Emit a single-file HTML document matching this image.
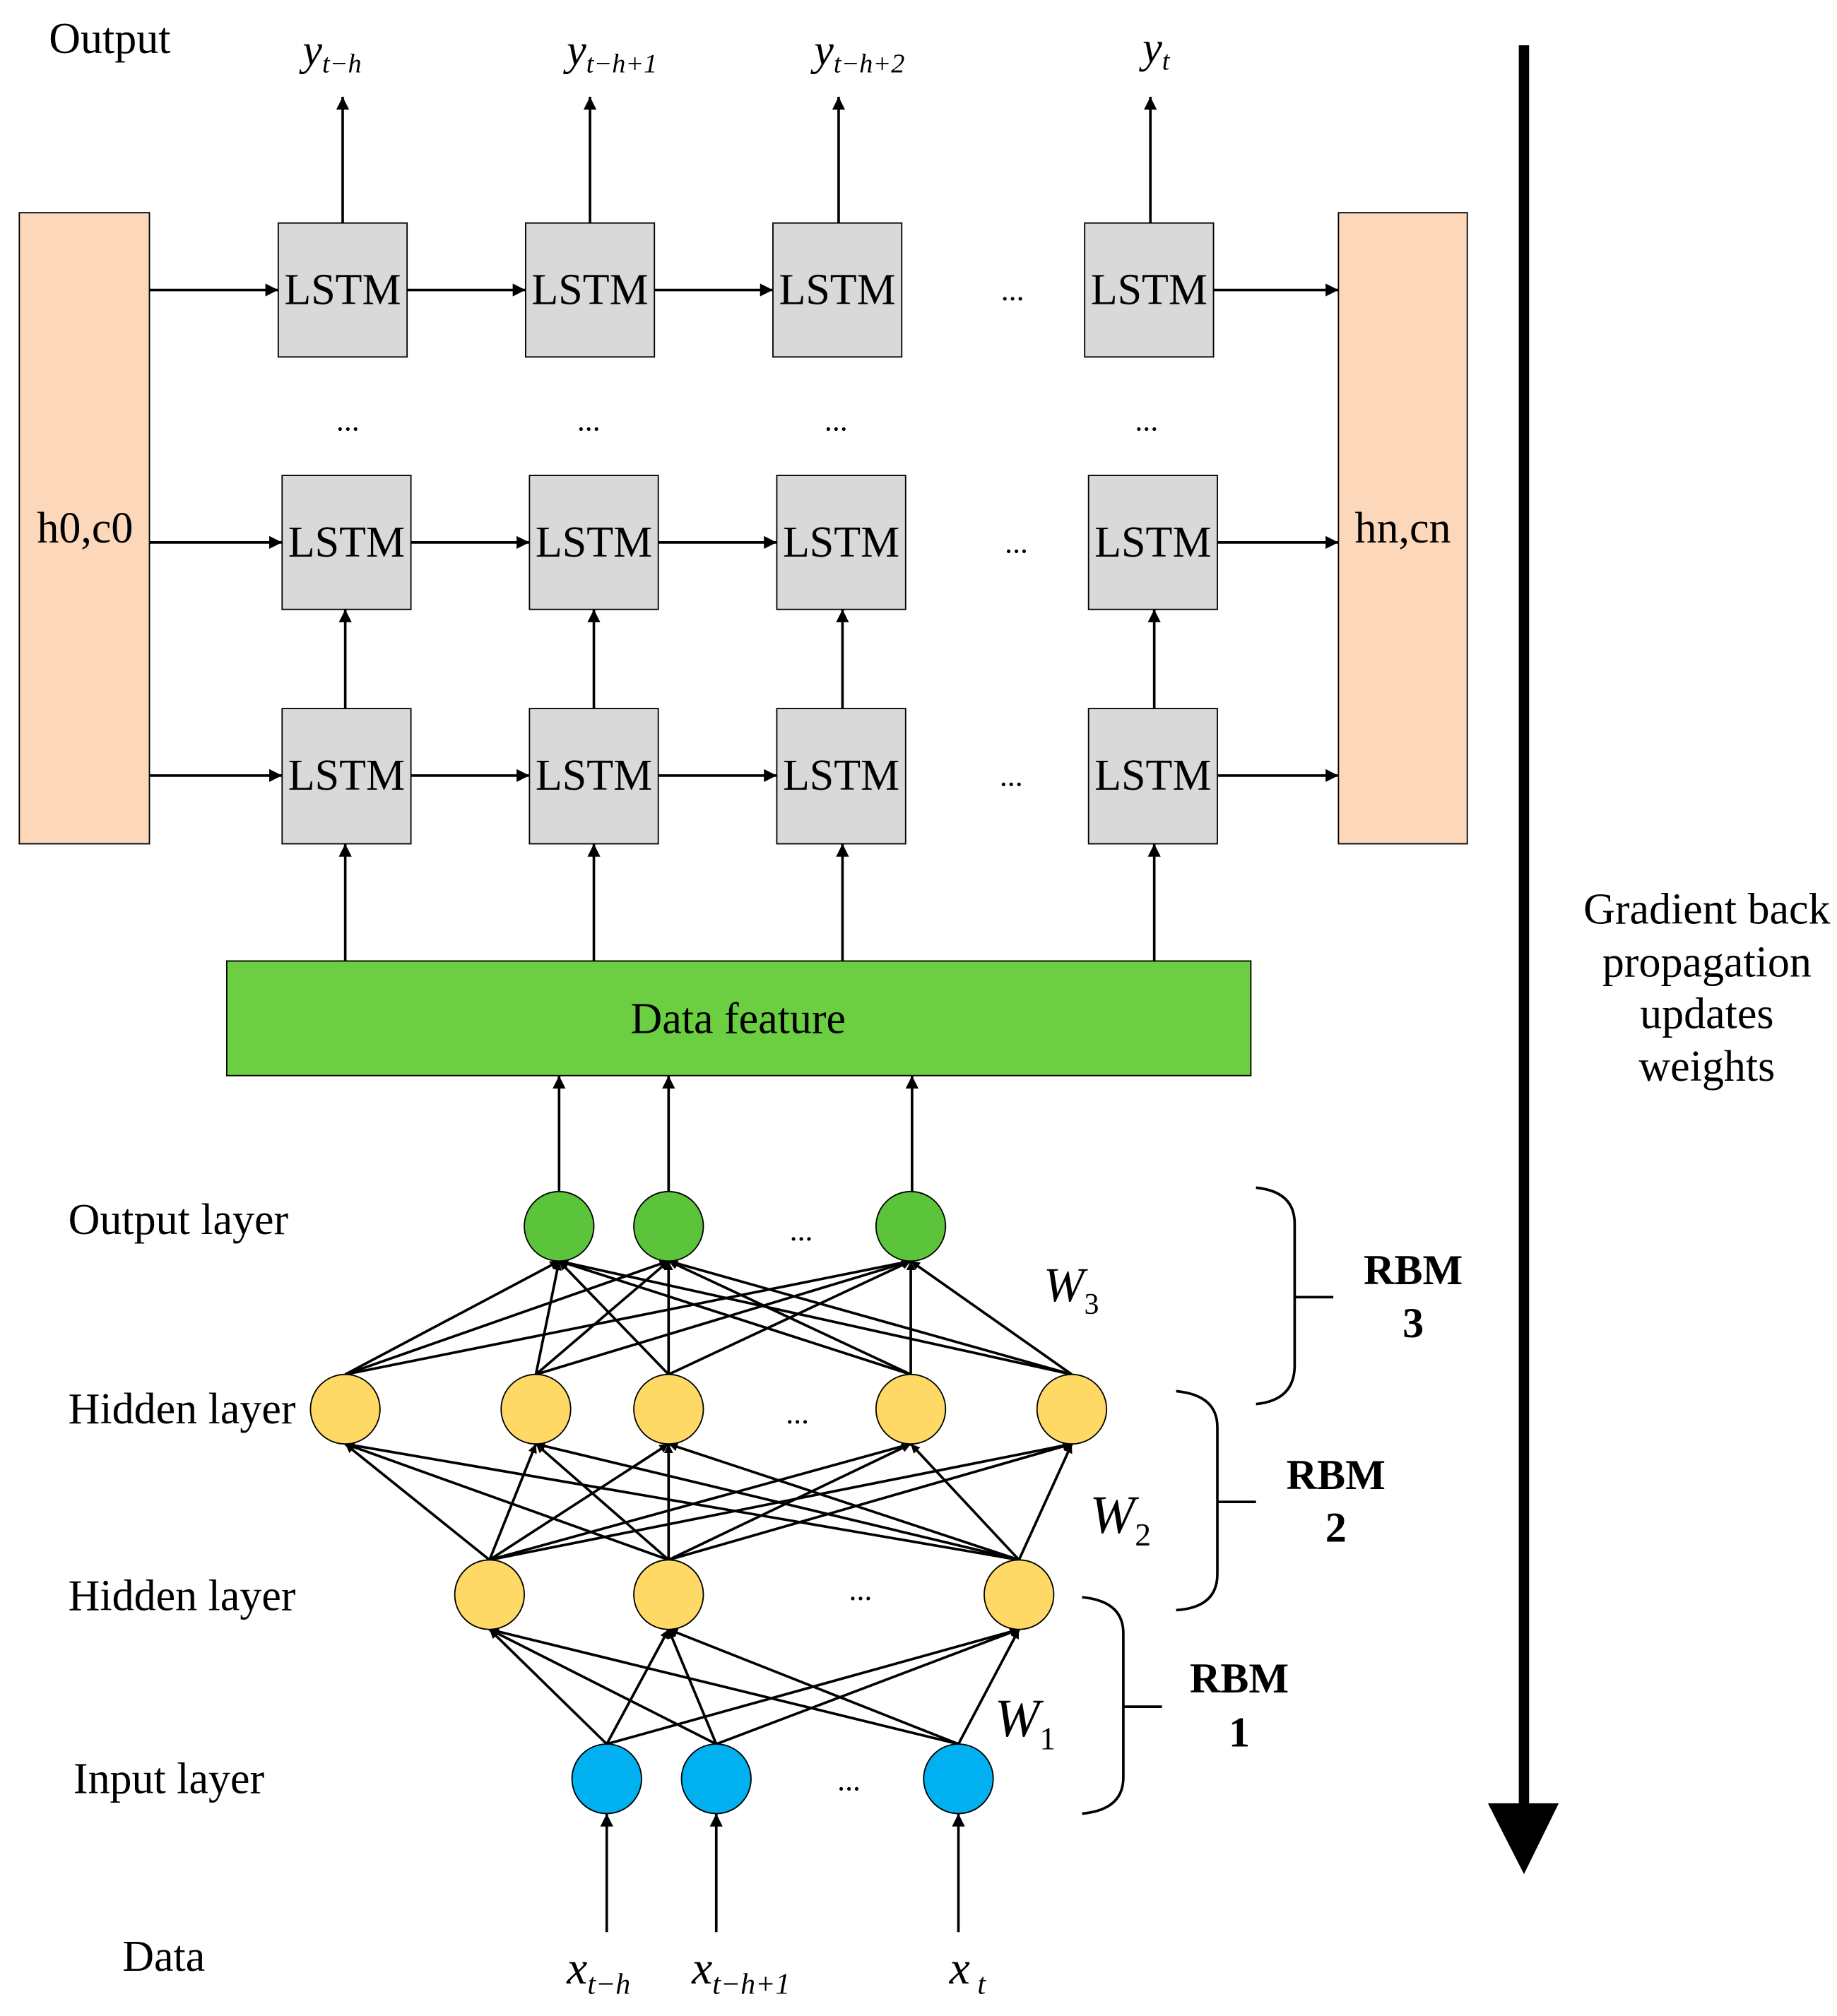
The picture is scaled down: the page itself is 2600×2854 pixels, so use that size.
<!DOCTYPE html>
<html><head><meta charset="utf-8"><style>html,body{margin:0;padding:0;background:#fff}svg{display:block}</style></head>
<body>
<svg width="2600" height="2854" viewBox="0 0 1426 1565" xmlns="http://www.w3.org/2000/svg" font-family="Liberation Serif, serif">
<defs>
<marker id="a" viewBox="0 0 10 10" refX="10" refY="5" markerWidth="7" markerHeight="7" markerUnits="userSpaceOnUse" orient="auto"><path d="M0,0 L10,5 L0,10 z" fill="#000"/></marker>
<marker id="b" viewBox="0 0 10 10" refX="10" refY="5" markerWidth="12" markerHeight="10" markerUnits="userSpaceOnUse" orient="auto"><path d="M0,0 L10,5 L0,10 z" fill="#000"/></marker>
</defs>
<g stroke="#000" stroke-width="2" fill="none" marker-end="url(#b)">
<line x1="266" y1="173" x2="266" y2="75"/><line x1="458" y1="173" x2="458" y2="75"/><line x1="651" y1="173" x2="651" y2="75"/><line x1="893" y1="173" x2="893" y2="75"/>
<line x1="116" y1="225" x2="216" y2="225"/><line x1="316" y1="225" x2="408" y2="225"/><line x1="508" y1="225" x2="600" y2="225"/><line x1="942" y1="225" x2="1039" y2="225"/>
<line x1="116" y1="421" x2="219" y2="421"/><line x1="319" y1="421" x2="411" y2="421"/><line x1="511" y1="421" x2="603" y2="421"/><line x1="945" y1="421" x2="1039" y2="421"/>
<line x1="116" y1="602" x2="219" y2="602"/><line x1="319" y1="602" x2="411" y2="602"/><line x1="511" y1="602" x2="603" y2="602"/><line x1="945" y1="602" x2="1039" y2="602"/>
<line x1="268" y1="550" x2="268" y2="473"/><line x1="461" y1="550" x2="461" y2="473"/><line x1="654" y1="550" x2="654" y2="473"/><line x1="896" y1="550" x2="896" y2="473"/>
<line x1="268" y1="746" x2="268" y2="655"/><line x1="461" y1="746" x2="461" y2="655"/><line x1="654" y1="746" x2="654" y2="655"/><line x1="896" y1="746" x2="896" y2="655"/>
<line x1="434" y1="925" x2="434" y2="835"/><line x1="519" y1="925" x2="519" y2="835"/><line x1="708" y1="925" x2="708" y2="835"/>
<line x1="471" y1="1500" x2="471" y2="1408"/><line x1="556" y1="1500" x2="556" y2="1408"/><line x1="744" y1="1500" x2="744" y2="1408"/>
</g>
<g fill="#FDD7B9" stroke="#000" stroke-width="1">
<rect x="15" y="165" width="101" height="490"/><rect x="1039" y="165" width="100" height="490"/>
</g>
<g fill="#D9D9D9" stroke="#000" stroke-width="1">
<rect x="216" y="173" width="100" height="104"/><rect x="408" y="173" width="100" height="104"/><rect x="600" y="173" width="100" height="104"/><rect x="842" y="173" width="100" height="104"/>
<rect x="219" y="369" width="100" height="104"/><rect x="411" y="369" width="100" height="104"/><rect x="603" y="369" width="100" height="104"/><rect x="845" y="369" width="100" height="104"/>
<rect x="219" y="550" width="100" height="105"/><rect x="411" y="550" width="100" height="105"/><rect x="603" y="550" width="100" height="105"/><rect x="845" y="550" width="100" height="105"/>
</g>
<rect x="176" y="746" width="795" height="89" fill="#6CCF42" stroke="#000" stroke-width="1"/>
<g font-size="34" text-anchor="middle" fill="#000">
<text x="266" y="236">LSTM</text><text x="458" y="236">LSTM</text><text x="650" y="236">LSTM</text><text x="892" y="236">LSTM</text>
<text x="269" y="432">LSTM</text><text x="461" y="432">LSTM</text><text x="653" y="432">LSTM</text><text x="895" y="432">LSTM</text>
<text x="269" y="613">LSTM</text><text x="461" y="613">LSTM</text><text x="653" y="613">LSTM</text><text x="895" y="613">LSTM</text>
</g>
<g font-size="34" fill="#000">
<text x="66" y="421" text-anchor="middle">h0,c0</text><text x="1089" y="421" text-anchor="middle">hn,cn</text>
<text x="573" y="802" text-anchor="middle">Data feature</text>
<text x="38" y="41">Output</text>
<text x="53" y="958">Output layer</text><text x="53" y="1105">Hidden layer</text><text x="53" y="1250">Hidden layer</text><text x="57" y="1392">Input layer</text><text x="95" y="1530">Data</text>
<g text-anchor="middle"><text x="1325" y="717">Gradient back</text><text x="1325" y="758">propagation</text><text x="1325" y="798">updates</text><text x="1325" y="839">weights</text></g>
</g>
<g font-size="24" fill="#000" text-anchor="middle">
<text x="786" y="233">...</text><text x="789" y="429">...</text><text x="785" y="610">...</text>
<text x="270" y="334">...</text><text x="457" y="334">...</text><text x="649" y="334">...</text><text x="890" y="334">...</text>
<text x="622" y="963">...</text><text x="619" y="1105">...</text><text x="668" y="1242">...</text><text x="659" y="1390">...</text>
</g>
<g font-style="italic" fill="#000">
<text x="235" y="50" font-size="34">y<tspan font-size="21" dy="6">t−h</tspan></text>
<text x="440" y="50" font-size="34">y<tspan font-size="21" dy="6">t−h+1</tspan></text>
<text x="632" y="50" font-size="34">y<tspan font-size="21" dy="6">t−h+2</tspan></text>
<text x="887" y="48" font-size="34">y<tspan font-size="21" dy="6">t</tspan></text>
<text x="440" y="1540" font-size="36">x<tspan font-size="23" dy="8">t−h</tspan></text>
<text x="537" y="1540" font-size="36">x<tspan font-size="23" dy="8">t−h+1</tspan></text>
<text x="737" y="1540" font-size="36">x<tspan font-size="23" dy="8"> t</tspan></text>
<text x="810" y="1010" font-size="38">W<tspan font-size="23" dy="10" font-style="normal">3</tspan></text>
<text x="846" y="1190" font-size="42">W<tspan font-size="25" dy="10" font-style="normal">2</tspan></text>
<text x="772" y="1348" font-size="42">W<tspan font-size="25" dy="10" font-style="normal">1</tspan></text>
</g>
<g stroke="#000" stroke-width="2" marker-end="url(#a)">
<line x1="268" y1="1067" x2="434" y2="979"/><line x1="268" y1="1067" x2="519" y2="979"/><line x1="268" y1="1067" x2="707" y2="979"/>
<line x1="416" y1="1067" x2="434" y2="979"/><line x1="416" y1="1067" x2="519" y2="979"/><line x1="416" y1="1067" x2="707" y2="979"/>
<line x1="519" y1="1067" x2="434" y2="979"/><line x1="519" y1="1067" x2="519" y2="979"/><line x1="519" y1="1067" x2="707" y2="979"/>
<line x1="707" y1="1067" x2="434" y2="979"/><line x1="707" y1="1067" x2="519" y2="979"/><line x1="707" y1="1067" x2="707" y2="979"/>
<line x1="832" y1="1067" x2="434" y2="979"/><line x1="832" y1="1067" x2="519" y2="979"/><line x1="832" y1="1067" x2="707" y2="979"/>
<line x1="380" y1="1211" x2="268" y2="1121"/><line x1="380" y1="1211" x2="416" y2="1121"/><line x1="380" y1="1211" x2="519" y2="1121"/><line x1="380" y1="1211" x2="707" y2="1121"/><line x1="380" y1="1211" x2="832" y2="1121"/>
<line x1="519" y1="1211" x2="268" y2="1121"/><line x1="519" y1="1211" x2="416" y2="1121"/><line x1="519" y1="1211" x2="519" y2="1121"/><line x1="519" y1="1211" x2="707" y2="1121"/><line x1="519" y1="1211" x2="832" y2="1121"/>
<line x1="791" y1="1211" x2="268" y2="1121"/><line x1="791" y1="1211" x2="416" y2="1121"/><line x1="791" y1="1211" x2="519" y2="1121"/><line x1="791" y1="1211" x2="707" y2="1121"/><line x1="791" y1="1211" x2="832" y2="1121"/>
<line x1="471" y1="1354" x2="380" y2="1265"/><line x1="471" y1="1354" x2="519" y2="1265"/><line x1="471" y1="1354" x2="791" y2="1265"/>
<line x1="556" y1="1354" x2="380" y2="1265"/><line x1="556" y1="1354" x2="519" y2="1265"/><line x1="556" y1="1354" x2="791" y2="1265"/>
<line x1="744" y1="1354" x2="380" y2="1265"/><line x1="744" y1="1354" x2="519" y2="1265"/><line x1="744" y1="1354" x2="791" y2="1265"/>
</g>
<g stroke="#000" stroke-width="1">
<g fill="#5CC43A"><circle cx="434" cy="952" r="27"/><circle cx="519" cy="952" r="27"/><circle cx="707" cy="952" r="27"/></g>
<g fill="#FFD966"><circle cx="268" cy="1094" r="27"/><circle cx="416" cy="1094" r="27"/><circle cx="519" cy="1094" r="27"/><circle cx="707" cy="1094" r="27"/><circle cx="832" cy="1094" r="27"/>
<circle cx="380" cy="1238" r="27"/><circle cx="519" cy="1238" r="27"/><circle cx="791" cy="1238" r="27"/></g>
<g fill="#00B0F0"><circle cx="471" cy="1381" r="27"/><circle cx="556" cy="1381" r="27"/><circle cx="744" cy="1381" r="27"/></g>
</g>
<g stroke="#000" stroke-width="2" fill="none">
<path d="M975,922 Q1005,925 1005,950 L1005,1060 Q1005,1087 975,1090 M1005,1007 L1035,1007"/>
<path d="M913,1080 Q945,1083 945,1108 L945,1222 Q945,1248 913,1250 M945,1166 L975,1166"/>
<path d="M840,1240 Q872,1243 872,1268 L872,1380 Q872,1405 840,1408 M872,1325 L902,1325"/>
</g>
<g font-size="33" font-weight="bold" text-anchor="middle" fill="#000">
<text x="1097" y="997">RBM</text><text x="1097" y="1038">3</text>
<text x="1037" y="1156">RBM</text><text x="1037" y="1197">2</text>
<text x="962" y="1314">RBM</text><text x="962" y="1356">1</text>
</g>
<line x1="1183" y1="35" x2="1183" y2="1405" stroke="#000" stroke-width="8"/>
<path d="M1155,1400 L1210,1400 L1183,1455 z" fill="#000"/>
</svg>
</body></html>
